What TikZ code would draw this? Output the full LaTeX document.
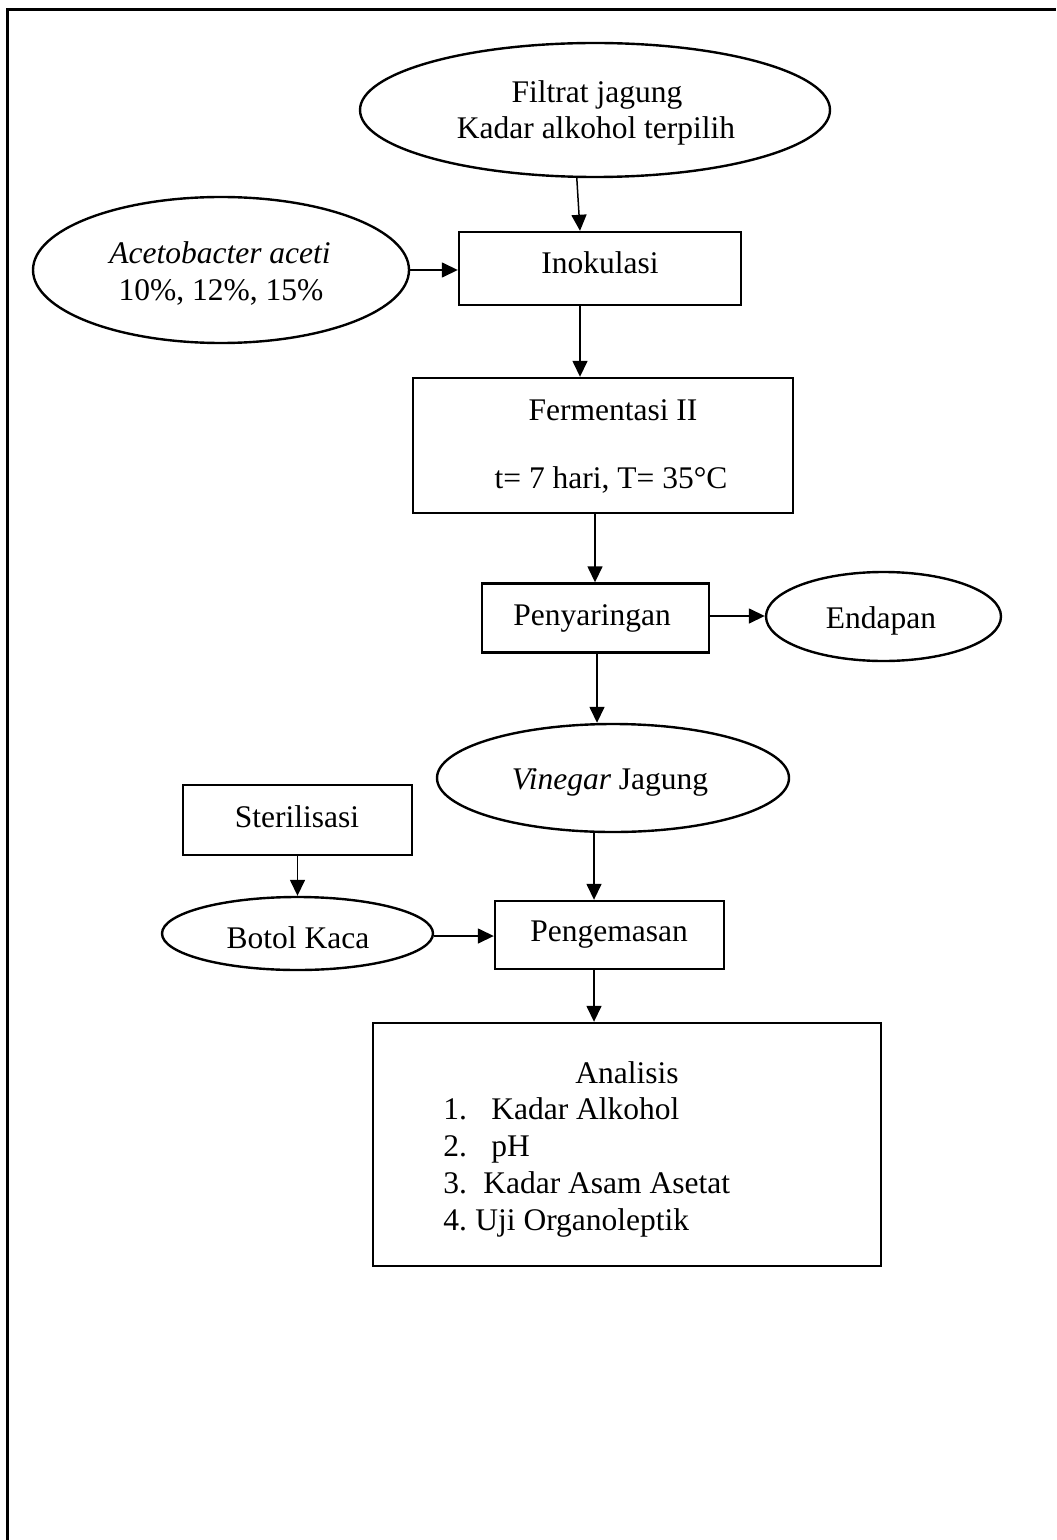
\documentclass[tikz,border=0pt]{standalone}
\usepackage{fontspec}
\setmainfont{Liberation Serif}
\usetikzlibrary{arrows.meta,shapes.geometric}
\begin{document}
\begin{tikzpicture}[x=0.5pt,y=-0.5pt,
  every node/.style={font=\fontsize{15.75}{18.5}\selectfont},
  sz/.style 2 args={minimum width=#1*0.5pt, minimum height=#2*0.5pt},
  pbox/.style={draw, rectangle, inner sep=0pt, line width=1.2pt},
  oval/.style={draw, ellipse, inner sep=0pt, line width=1.2pt},
  txt/.style={anchor=base, inner sep=0pt},
  ltxt/.style={anchor=base west, inner sep=0pt},
  arr/.style={-{Triangle[length=8pt,width=7.5pt]}, line width=0.75pt},
]
\useasboundingbox (0,0) rectangle (1056,1540);
\draw[line width=1.5pt] (7.5,1540) -- (7.5,9.5) -- (1056,9.5);

% shapes
\node[oval, sz={470}{134}] (filtrat) at (595,110) {};
\node[oval, sz={376}{146}] (aceto) at (221,270) {};
\node[pbox, sz={282}{73}] (inok) at (600,268.5) {};
\node[pbox, sz={380}{135}] (ferm) at (603,445.5) {};
\node[pbox, sz={227}{69}] (peny) at (595.5,618) {};
\node[oval, sz={235}{89}] (endapan) at (883.5,616.5) {};
\node[oval, sz={352}{108}] (vinegar) at (613,778) {};
\node[pbox, sz={229}{70}] (steril) at (297.5,820) {};
\node[oval, sz={271}{73}] (botol) at (297.5,933.5) {};
\node[pbox, sz={229}{68}] (peng) at (609.5,935) {};
\node[pbox, sz={508}{243}] (ana) at (627,1144.5) {};

% texts
\node[txt] (t1) at (597,103) {Filtrat jagung};
\node[txt] (t2) at (596,139) {Kadar alkohol terpilih};
\node[txt] (t3) at (220,264) {\itshape Acetobacter aceti};
\node[txt] (t4) at (221,301) {10\%, 12\%, 15\%};
\node[txt] (t5) at (600,274) {Inokulasi};
\node[txt] (t6) at (613,420) {Fermentasi II};
\node[txt] (t7) at (611,488) {t= 7 hari, T= 35°C};
\node[txt] (t8) at (592,625) {Penyaringan};
\node[txt] (t9) at (881,628) {Endapan};
\node[txt] (t10) at (610,789) {{\itshape Vinegar} Jagung};
\node[txt] (t11) at (297,827) {Sterilisasi};
\node[txt] (t12) at (298,948) {Botol Kaca};
\node[txt] (t13) at (609,941) {Pengemasan};
\node[ltxt] (a0) at (575,1083) {Analisis};
\node[ltxt] (a1n) at (443,1119) {1.};
\node[ltxt] (a1) at (491,1119) {Kadar Alkohol};
\node[ltxt] (a2n) at (443,1156) {2.};
\node[ltxt] (a2) at (491,1156) {pH};
\node[ltxt] (a3n) at (443,1193) {3.};
\node[ltxt] (a3) at (483,1193) {Kadar Asam Asetat};
\node[ltxt] (a4n) at (443,1230) {4.};
\node[ltxt] (a4) at (475,1230) {Uji Organoleptik};

% connector guides
\coordinate (xa) at (580,0);
\coordinate (xb) at (595,0);
\coordinate (xc) at (597,0);
\coordinate (xd) at (594,0);
\coordinate (yb) at (0,616);
\coordinate (yd) at (0,936);

% connectors
\draw[arr] (filtrat.-105) -- (inok.north -| xa);
\draw[arr] (aceto.east) -- (inok.west |- aceto.east);
\draw[arr] (inok.south -| xa) -- (ferm.north -| xa);
\draw[arr] (ferm.south -| xb) -- (peny.north -| xb);
\draw[arr] (peny.east |- yb) -- (endapan.west |- yb);
\draw[arr] (peny.south -| xc) -- (vinegar.north -| xc);
\draw[arr] (steril.south) -- (botol.north);
\draw[arr] (vinegar.south -| xd) -- (peng.north -| xd);
\draw[arr] (botol.east |- yd) -- (peng.west |- yd);
\draw[arr] (peng.south -| xd) -- (ana.north -| xd);
\end{tikzpicture}
\end{document}
